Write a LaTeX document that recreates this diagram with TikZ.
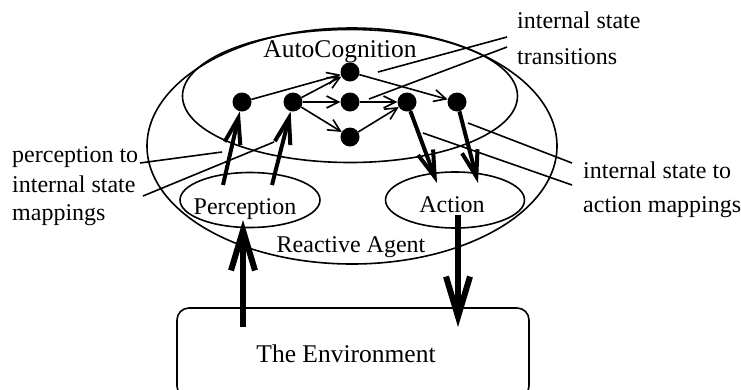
\documentclass[tikz,border=0pt]{standalone}
\usepackage{fontspec}
\setmainfont{Liberation Serif}
\usetikzlibrary{shapes,arrows.meta,calc}

\tikzset{
  dot/.style={circle,fill=black,inner sep=0pt,minimum size=19pt},
  txt/.style={font=\fontsize{24}{28}\selectfont,inner sep=0pt},
  bigtxt/.style={font=\fontsize{25.5}{30}\selectfont,inner sep=0pt},
  bubble/.style={ellipse,draw,line width=1.6pt,inner sep=0pt},
  trans/.style={line width=1.6pt,-{Straight Barb[length=12pt,width=12pt]}},
  map/.style={line width=4pt,-{Straight Barb[length=26pt,width=16pt]}},
  envarrow/.style={line width=6pt,-{Straight Barb[length=40pt,width=24pt]}},
  callout/.style={line width=1.6pt},
}

\begin{document}
\begin{tikzpicture}[x=1pt,y=-1pt]
\clip (0,0) rectangle (741,389);
% the agent
\node[bubble,minimum width=410pt,minimum height=236pt] (agent) at (352,146) {};
\node[bubble,minimum width=335pt,minimum height=133pt] (auto) at (350,96) {};
\node[bubble,minimum width=140pt,minimum height=55pt] (perc) at (250,200) {};
\node[bubble,minimum width=139pt,minimum height=56pt] (act) at (455,200) {};
\node[draw,line width=1.6pt,rounded corners=12pt,minimum width=352pt,minimum height=90pt] (env) at (353,353) {};

\node[bigtxt,anchor=base] (autolbl) at (340,57) {AutoCognition};
\node[txt,anchor=base] (agentlbl) at (351,252) {Reactive Agent};
\node[txt,anchor=base] (perclbl) at (245,214) {Perception};
\node[txt,anchor=base] (actlbl) at (452,212) {Action};
\node[bigtxt,anchor=base] (envlbl) at (346,362) {The Environment};

% internal states
\node[dot] (s1) at (242,102) {};
\node[dot] (s2) at (293,102) {};
\node[dot] (s3) at (350,72) {};
\node[dot] (s4) at (350,102) {};
\node[dot] (s5) at (350,137) {};
\node[dot] (s6) at (407,102) {};
\node[dot] (s7) at (457,102) {};

\draw[trans] (s1) -- (s3);
\draw[trans] (s2) -- (s3);
\draw[trans] (s2) -- (s4);
\draw[trans] (s2) -- (s5);
\draw[trans] (s4) -- (s6);
\draw[trans] (s5) -- (s6);
\draw[trans] (s3) -- (s7);

% mappings
\coordinate (p1) at (223,185);
\coordinate (p2) at (272,185);
\coordinate (a1) at (437,183);
\coordinate (a2) at (478,183);
\draw[map] (p1) -- (s1);
\draw[map] (p2) -- (s2);
\draw[map] (s6) -- (a1);
\draw[map] (s7) -- (a2);

% to and from the environment
\coordinate (e1) at (243,327);
\coordinate (e2) at (458,327);
\coordinate (pin) at (243,220);
\coordinate (aout) at (458,215);
\draw[envarrow] (e1) -- (pin);
\draw[envarrow] (aout) -- (e2);

% side notes
\node[txt,anchor=base west] (pm1) at (12,162) {perception to};
\node[txt,anchor=base west] (pm2) at (12,192) {internal state};
\node[txt,anchor=base west] (pm3) at (12,220) {mappings};
\node[txt,anchor=base west] (tr1) at (517,28) {internal state};
\node[txt,anchor=base west] (tr2) at (517,64) {transitions};
\node[txt,anchor=base west] (am1) at (583,178) {internal state to};
\node[txt,anchor=base west] (am2) at (583,212) {action mappings};

\coordinate (c1) at (140,163);
\coordinate (c1e) at (222,152);
\coordinate (c2) at (143,196);
\coordinate (c2e) at (274,142);
\coordinate (c3) at (507,37);
\coordinate (c3e) at (378,72);
\coordinate (c4) at (507,47);
\coordinate (c4e) at (369,99);
\coordinate (c5) at (572,163);
\coordinate (c5e) at (468,123);
\coordinate (c6) at (572,185);
\coordinate (c6e) at (423,133);
\draw[callout] (c1) -- (c1e);
\draw[callout] (c2) -- (c2e);
\draw[callout] (c3) -- (c3e);
\draw[callout] (c4) -- (c4e);
\draw[callout] (c5) -- (c5e);
\draw[callout] (c6) -- (c6e);
\end{tikzpicture}
\end{document}
